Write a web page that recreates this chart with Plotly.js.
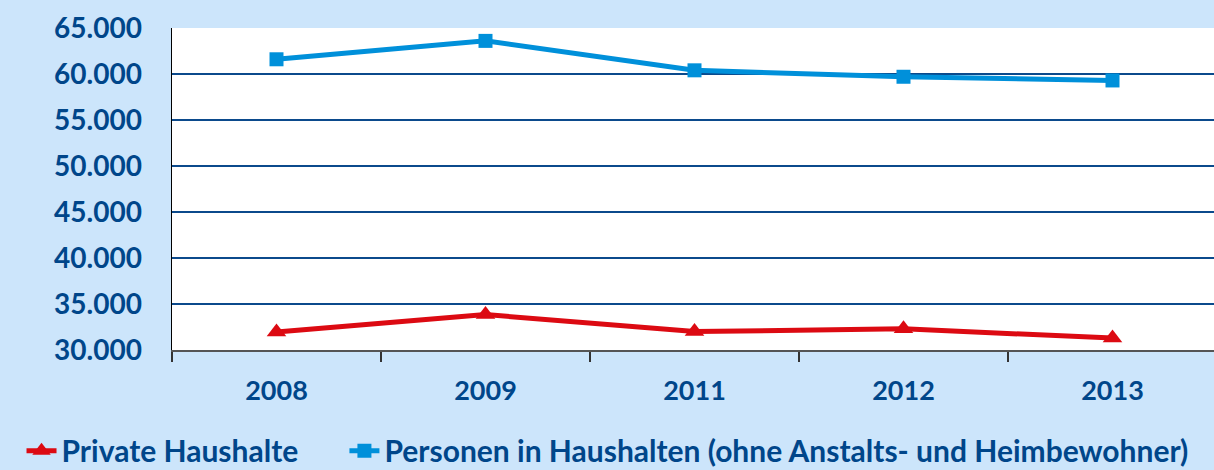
<!DOCTYPE html>
<html><head><meta charset="utf-8">
<script src="https://cdn.plot.ly/plotly-3.0.1.min.js"></script>
<style>html,body{margin:0;padding:0;overflow:hidden;background:#CCE5FB;}</style>
</head><body>
<div id="chart" style="width:1218px;height:482px;"></div>
<script>
const years = ["2008", "2009", "2011", "2012", "2013"];
const privateHaushalte = [31950, 33850, 32000, 32300, 31300];
const personenInHaushalten = [61600, 63600, 60400, 59700, 59300];
const yTickValues = [30000, 35000, 40000, 45000, 50000, 55000, 60000, 65000];
const yTickLabels = ["30.000", "35.000", "40.000", "45.000", "50.000", "55.000", "60.000", "65.000"];
const seriesNames = ["Private Haushalte", "Personen in Haushalten (ohne Anstalts- und Heimbewohner)"];

const font = "Lato, 'Open Sans', sans-serif";
const txt = "#00468A";
const legendFont = {family: font, size: 30, color: txt, weight: "bold"};

const data = [
  {x: years, y: privateHaushalte, name: seriesNames[0], type: "scatter", mode: "lines+markers", legend: "legend",
   line: {color: "#DC0A12", width: 5}, marker: {symbol: "triangle-up", size: 17, color: "#DC0A12"}},
  {x: years, y: personenInHaushalten, name: seriesNames[1], type: "scatter", mode: "lines+markers", legend: "legend2",
   line: {color: "#0090DA", width: 5}, marker: {symbol: "square", size: 14, color: "#0090DA"}}
];

const layout = {
  width: 1218, height: 482,
  margin: {l: 172, r: 1, t: 28, b: 132},
  paper_bgcolor: "#CCE5FB", plot_bgcolor: "#FFFFFF",
  font: {family: font, color: txt, size: 24},
  showlegend: true,
  legend: {orientation: "h", x: -0.144, xanchor: "left", y: -0.232, yanchor: "top",
           font: legendFont, bgcolor: "rgba(0,0,0,0)"},
  legend2: {orientation: "h", x: 0.165, xanchor: "left", y: -0.232, yanchor: "top",
           font: legendFont, bgcolor: "rgba(0,0,0,0)"},
  xaxis: {type: "category", range: [-0.5, 4.5], tickson: "boundaries", ticks: "outside", ticklen: 10,
          tickcolor: "#333", tickwidth: 1.5, showline: true, linecolor: "#555", linewidth: 2,
          showgrid: false, ticklabelstandoff: 16,
          tickfont: {family: font, size: 27, color: txt, weight: "bold"}, fixedrange: true},
  yaxis: {range: [30000, 65000], tickvals: yTickValues, ticktext: yTickLabels, showgrid: true,
          gridcolor: "#0B4A8C", gridwidth: 2, zeroline: false, showline: true, linecolor: "#000", linewidth: 1.5,
          ticks: "", ticklabelstandoff: 23,
          tickfont: {family: font, size: 28, color: txt, weight: "bold"}, fixedrange: true}
};
Plotly.newPlot("chart", data, layout, {displayModeBar: false, staticPlot: true});
</script>
</body></html>
